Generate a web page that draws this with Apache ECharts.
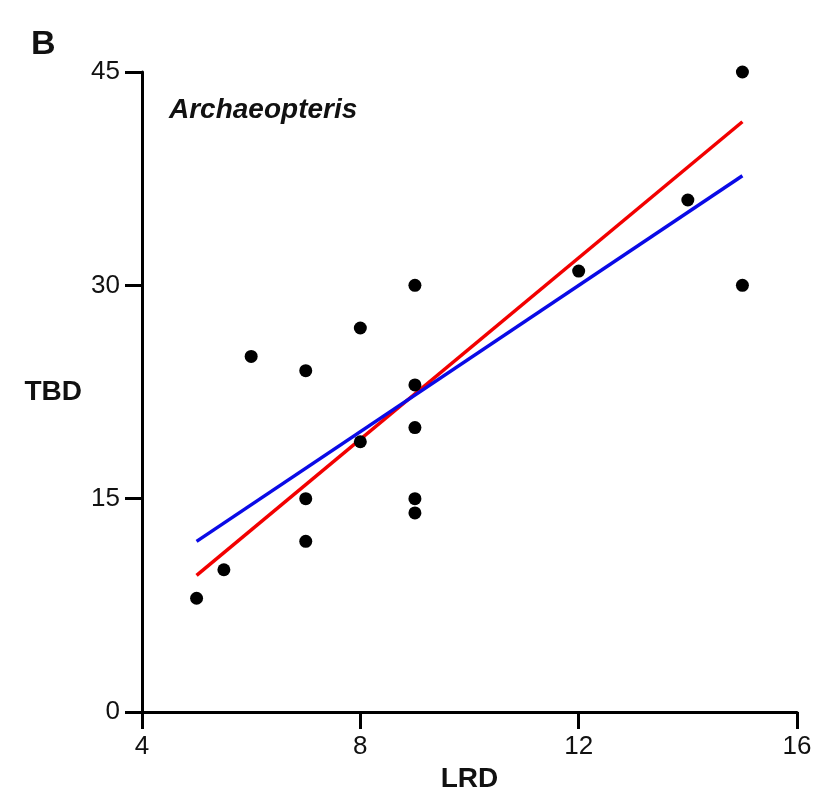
<!DOCTYPE html>
<html>
<head>
<meta charset="utf-8">
<script src="https://cdn.jsdelivr.net/npm/echarts@6/dist/echarts.min.js"></script>
<style>
html,body{margin:0;padding:0;background:#fff;}
#chart{width:821px;height:795px;}
</style>
</head>
<body>
<div id="chart"></div>
<script>
// Data
const lrd = [5, 5.5, 6, 7, 7, 7, 8, 8, 9, 9, 9, 9, 9, 12, 14, 15, 15];
const tbd = [8, 10, 25, 24, 15, 12, 27, 19, 30, 23, 20, 15, 14, 31, 36, 45, 30];
const redLineX = [5, 15];
const redLineY = [9.6, 41.5];
const blueLineX = [5, 15];
const blueLineY = [12.0, 37.7];
const xTicks = [4, 8, 12, 16];
const yTicks = [0, 15, 30, 45];

const font = "'Liberation Sans', Arial, Helvetica, sans-serif";
const chart = echarts.init(document.getElementById('chart'));
chart.setOption({
  backgroundColor: '#fff',
  animation: false,
  title: [{
    text: 'B', left: 26, top: 23,
    textStyle: {fontFamily: font, fontSize: 34, fontWeight: 'bold', color: '#111'}
  }, {
    text: 'Archaeopteris', left: 164, top: 91,
    textStyle: {fontFamily: font, fontSize: 28, fontWeight: 'bold', fontStyle: 'italic', color: '#111'}
  }],
  grid: {left: 142, right: 24, top: 72, bottom: 83, outerBoundsMode: 'none', containLabel: false},
  xAxis: {
    type: 'value', min: xTicks[0], max: xTicks[xTicks.length - 1], interval: 4,
    name: 'LRD', nameLocation: 'middle', nameGap: 46,
    nameTextStyle: {fontFamily: font, fontSize: 28, fontWeight: 'bold', color: '#111'},
    axisLine: {lineStyle: {color: '#000', width: 3}},
    axisTick: {show: true, inside: false, length: 17, lineStyle: {color: '#000', width: 3}},
    axisLabel: {margin: 22, fontFamily: font, fontSize: 26, color: '#111'},
    splitLine: {show: false}
  },
  yAxis: {
    type: 'value', min: yTicks[0], max: yTicks[yTicks.length - 1], interval: 15,
    name: 'TBD', nameLocation: 'middle', nameRotate: 0, nameGap: 60,
    nameTextStyle: {fontFamily: font, fontSize: 28, fontWeight: 'bold', color: '#111', align: 'right'},
    axisLine: {show: true, lineStyle: {color: '#000', width: 3}},
    axisTick: {show: true, inside: false, length: 17, lineStyle: {color: '#000', width: 3}},
    axisLabel: {margin: 22, fontFamily: font, fontSize: 26, color: '#111'},
    splitLine: {show: false}
  },
  series: [{
    type: 'line',
    data: redLineX.map((x, i) => [x, redLineY[i]]),
    showSymbol: false, symbol: 'none',
    lineStyle: {color: '#f20000', width: 3.5}, z: 2
  }, {
    type: 'line',
    data: blueLineX.map((x, i) => [x, blueLineY[i]]),
    showSymbol: false, symbol: 'none',
    lineStyle: {color: '#0a0ae6', width: 3.5}, z: 3
  }, {
    type: 'scatter',
    data: lrd.map((x, i) => [x, tbd[i]]),
    symbol: 'circle', symbolSize: 13,
    itemStyle: {color: '#000', opacity: 1}, z: 4
  }]
});
</script>
</body>
</html>
